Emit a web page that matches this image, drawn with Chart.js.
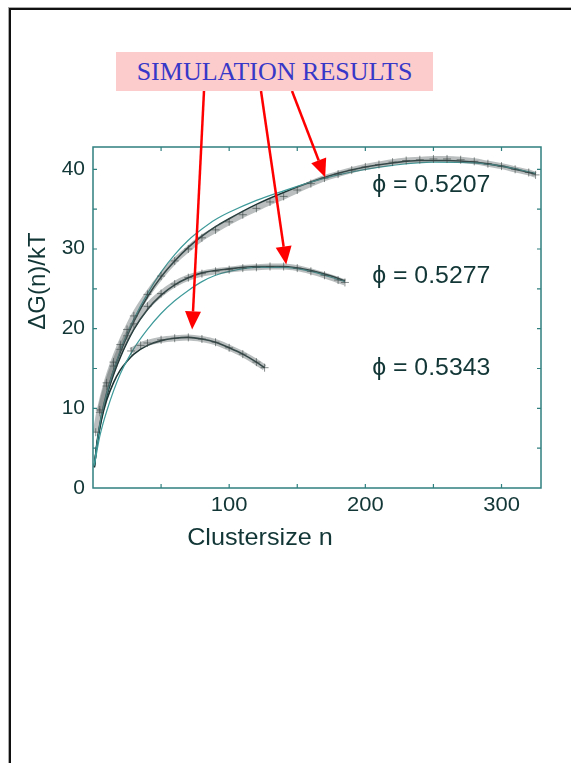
<!DOCTYPE html>
<html>
<head>
<meta charset="utf-8">
<script src="https://cdn.jsdelivr.net/npm/chart.js@4.4.0/dist/chart.umd.min.js"></script>
<style>
    html, body { margin: 0; padding: 0; background: #fff; width: 571px; height: 763px; overflow: hidden; }
    #frame { position: absolute; left: 9px; top: 8px; width: 620px; height: 820px;
             border-left: 2px solid #111; border-top: 2px solid #111; box-shadow: -1px -1px 0 #aaa; }
    #wrap { position: absolute; left: 0; top: 0; width: 571px; height: 560px; }
    #tag { position: absolute; left: 116px; top: 52px; width: 317px; height: 39px; z-index: 2;
           background: #fccccc; color: #3838c8; font: 26px "Liberation Serif", serif;
           line-height: 40px; text-align: center; }
</style>
</head>
<body>
<div id="frame"></div>
<div id="wrap"><canvas id="chart-js" width="571" height="560"></canvas></div>
<div id="tag">SIMULATION RESULTS</div>
<script>
// simulation data
const n5207 = [2, 5, 10, 15, 20, 25, 30, 40, 50, 60, 70, 80, 90, 100, 110, 120, 130, 140, 150, 160, 170, 180, 190, 200, 210, 220, 230, 240, 250, 260, 270, 280, 290, 300, 310, 320, 325];
const g5207 = [7.0, 9.8, 13.2, 15.8, 18.0, 19.9, 21.6, 24.3, 26.6, 28.5, 30.0, 31.4, 32.4, 33.4, 34.3, 35.1, 35.9, 36.6, 37.4, 38.2, 38.9, 39.4, 39.9, 40.3, 40.6, 40.9, 41.1, 41.2, 41.3, 41.3, 41.2, 41.0, 40.7, 40.4, 40.0, 39.6, 39.3];
const n5277 = [5, 10, 15, 20, 25, 30, 40, 50, 60, 70, 80, 90, 100, 110, 120, 130, 140, 150, 160, 170, 180, 185];
const g5277 = [9.5, 12.8, 15.3, 17.4, 19.1, 20.6, 22.8, 24.4, 25.6, 26.4, 26.9, 27.2, 27.4, 27.6, 27.7, 27.8, 27.8, 27.6, 27.2, 26.7, 26.1, 25.8];
const n5343 = [28, 35, 40, 50, 60, 70, 80, 90, 100, 110, 120, 126];
const g5343 = [17.2, 17.9, 18.2, 18.6, 18.8, 18.9, 18.7, 18.3, 17.6, 16.8, 15.8, 15.1];

// fitted curves (dark)
const nFit5207 = [1, 3, 6, 10, 15, 20, 30, 40, 50, 60, 70, 80, 90, 100, 120, 140, 160, 180, 200, 220, 240, 260, 280, 300, 325];
const fit5207 = [2.6, 5.8, 8.9, 11.9, 14.7, 17.0, 20.9, 24.0, 26.5, 28.5, 30.2, 31.6, 32.8, 33.8, 35.6, 37.1, 38.4, 39.5, 40.3, 40.8, 41.1, 41.1, 40.9, 40.4, 39.4];
const nFit5277 = [1, 3, 6, 10, 15, 20, 30, 40, 50, 60, 70, 80, 100, 120, 140, 160, 175, 185];
const fit5277 = [2.6, 5.6, 8.6, 11.5, 14.2, 16.4, 19.9, 22.4, 24.2, 25.5, 26.4, 27.0, 27.5, 27.8, 27.8, 27.3, 26.6, 26.0];
const nFit5343 = [1, 3, 6, 10, 15, 20, 25, 30, 40, 50, 60, 70, 80, 90, 100, 110, 120, 126];
const fit5343 = [2.8, 5.5, 8.4, 11.0, 13.2, 14.8, 15.9, 16.8, 17.9, 18.5, 18.8, 18.9, 18.7, 18.3, 17.6, 16.8, 15.8, 15.1];

// thin teal curves
const nTh5207 = [1, 5, 10, 20, 30, 40, 50, 60, 70, 80, 90, 100, 120, 140, 160, 180, 200, 220, 250, 280, 300, 325];
const th5207 = [3.0, 8.0, 11.8, 17.3, 21.2, 24.4, 27.1, 29.3, 31.1, 32.5, 33.7, 34.6, 36.1, 37.3, 38.4, 39.3, 40.0, 40.5, 40.9, 40.8, 40.4, 39.5];
const nTh5277 = [1, 5, 10, 20, 30, 40, 50, 60, 70, 80, 90, 100, 120, 140, 160, 185];
const th5277 = [2.8, 6.5, 9.6, 14.3, 17.5, 19.9, 21.9, 23.5, 24.8, 25.9, 26.7, 27.2, 27.7, 27.7, 27.2, 25.9];

// labels and axes
const xTitle = 'Clustersize n';
const yTitle = '\u0394G(n)/kT';
const phiLabels = ['\u03d5 = 0.5207', '\u03d5 = 0.5277', '\u03d5 = 0.5343'];
const phiLabelX = [205, 205, 205];
const phiLabelY = [38.0, 26.5, 15.0];
const arrowTipX = [72.8, 141.9, 170.5];
const arrowTipY = [19.9, 28.05, 39.0];
const xLabelVals = [100, 200, 300];
const yLabelVals = [0, 10, 20, 30, 40];
const xMinorVals = [50, 100, 150, 200, 250, 300];
const yMinorVals = [5, 10, 15, 20, 25, 30, 35, 40];

const pts = (xs, ys) => xs.map((x, i) => ({ x: x, y: ys[i] }));
const FONT = '"Liberation Sans", Arial, sans-serif';
const TXT = '#123636';
const AXIS = '#2f7f7f';

const bandSet = (xs, ys) => ({
    data: pts(xs, ys),
    borderColor: 'rgba(90,100,100,0.42)',
    borderWidth: 6,
    cubicInterpolationMode: 'monotone',
    pointStyle: 'cross',
    pointRadius: 4,
    pointBorderWidth: 1,
    pointBorderColor: 'rgba(55,65,65,0.6)',
});
const lineSet = (xs, ys, color, w) => ({
    data: pts(xs, ys),
    borderColor: color,
    borderWidth: w,
    cubicInterpolationMode: 'monotone',
    pointRadius: 0,
});

// text slightly wider than the font, like the scanned figure
function wideText(ctx, t, px, py, sx, align) {
    ctx.save();
    ctx.translate(px, py);
    ctx.scale(sx, 1);
    ctx.textAlign = align;
    ctx.fillText(t, 0, 0);
    ctx.restore();
}

const decor = {
    id: 'decor',
    afterDatasetsDraw(chart) {
        const { ctx, chartArea: a, scales: { x, y } } = chart;
        ctx.save();
        // box
        ctx.strokeStyle = AXIS;
        ctx.lineWidth = 1.5;
        ctx.strokeRect(a.left, a.top, a.right - a.left, a.bottom - a.top);
        // inward ticks on all sides
        ctx.lineWidth = 1.2;
        ctx.beginPath();
        xMinorVals.forEach(v => {
            const px = x.getPixelForValue(v);
            ctx.moveTo(px, a.bottom); ctx.lineTo(px, a.bottom - 4);
            ctx.moveTo(px, a.top); ctx.lineTo(px, a.top + 4);
        });
        yMinorVals.forEach(v => {
            const py = y.getPixelForValue(v);
            ctx.moveTo(a.left, py); ctx.lineTo(a.left + 4, py);
            ctx.moveTo(a.right, py); ctx.lineTo(a.right - 4, py);
        });
        ctx.stroke();
        // tick labels
        ctx.fillStyle = TXT;
        ctx.textBaseline = 'middle';
        ctx.font = '20px ' + FONT;
        xLabelVals.forEach(v => wideText(ctx, String(v), x.getPixelForValue(v), a.bottom + 17, 1.1, 'center'));
        yLabelVals.forEach(v => wideText(ctx, String(v), a.left - 8, y.getPixelForValue(v), 1.05, 'right'));
        // axis titles (set off-centre like the original)
        ctx.font = '24px ' + FONT;
        wideText(ctx, xTitle, a.left + 167, 538, 1.05, 'center');
        ctx.save();
        ctx.translate(38, a.top + 134);
        ctx.rotate(-Math.PI / 2);
        ctx.textAlign = 'center';
        ctx.fillText(yTitle, 0, 0);
        ctx.restore();
        // phi labels
        ctx.font = '23px ' + FONT;
        phiLabels.forEach((t, i) => wideText(ctx, t, x.getPixelForValue(phiLabelX[i]), y.getPixelForValue(phiLabelY[i]), 1.08, 'left'));
        // red arrows from the tag
        const startX = [204, 261, 292], startY = 91;
        ctx.strokeStyle = '#ff0000';
        ctx.fillStyle = '#ff0000';
        ctx.lineWidth = 2.5;
        arrowTipX.forEach((v, i) => {
            const tx = x.getPixelForValue(v), ty = y.getPixelForValue(arrowTipY[i]);
            const dx = tx - startX[i], dy = ty - startY, len = Math.hypot(dx, dy);
            const ux = dx / len, uy = dy / len, hl = 18, hw = 8;
            const bx = tx - ux * hl, by = ty - uy * hl;
            ctx.beginPath();
            ctx.moveTo(startX[i], startY);
            ctx.lineTo(bx, by);
            ctx.stroke();
            ctx.beginPath();
            ctx.moveTo(tx, ty);
            ctx.lineTo(bx - uy * hw, by + ux * hw);
            ctx.lineTo(bx + uy * hw, by - ux * hw);
            ctx.closePath();
            ctx.fill();
        });
        ctx.restore();
    }
};

new Chart(document.getElementById('chart-js'), {
    type: 'line',
    data: {
        datasets: [
            bandSet(n5207, g5207),
            bandSet(n5277, g5277),
            bandSet(n5343, g5343),
            lineSet(nTh5207, th5207, '#3f9a9a', 1.2),
            lineSet(nTh5277, th5277, '#3f9a9a', 1.2),
            lineSet(nFit5207, fit5207, '#1c3434', 1.6),
            lineSet(nFit5277, fit5277, '#1c3434', 1.6),
            lineSet(nFit5343, fit5343, '#1c3434', 1.6),
        ]
    },
    options: {
        responsive: false,
        animation: false,
        devicePixelRatio: 1,
        layout: { padding: { left: 0, top: 147, right: 30, bottom: 0 } },
        plugins: { legend: { display: false }, tooltip: { enabled: false } },
        scales: {
            x: {
                type: 'linear', min: 0, max: 329,
                afterFit: s => { s.height = 72; },
                grid: { display: false, drawTicks: false },
                border: { display: false },
                ticks: { display: false }
            },
            y: {
                type: 'linear', min: 0, max: 42.8,
                afterFit: s => { s.width = 93; },
                grid: { display: false, drawTicks: false },
                border: { display: false },
                ticks: { display: false }
            }
        }
    },
    plugins: [decor]
});
</script>
</body>
</html>
